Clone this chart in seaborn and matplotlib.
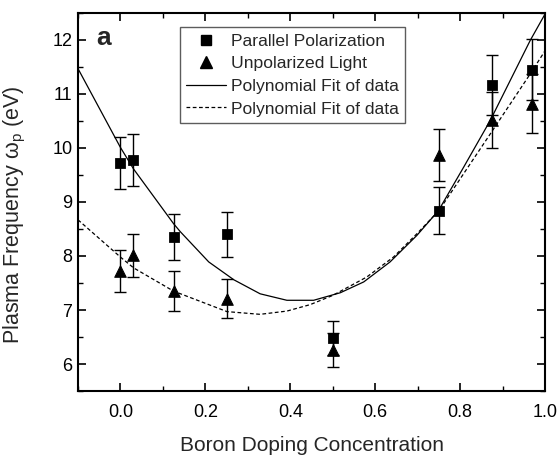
import matplotlib
matplotlib.use("Agg")
import matplotlib.pyplot as plt
from matplotlib.lines import Line2D
from matplotlib.ticker import MultipleLocator
import pandas as pd
import seaborn as sns

# ── Data ─────────────────────────────────────────────────────────────────────
x_conc = [0.0, 0.03, 0.125, 0.25, 0.5, 0.75, 0.875, 0.97]
y_parallel = [9.72, 9.78, 8.35, 8.40, 6.48, 8.84, 11.17, 11.45]
err_parallel = [0.48, 0.48, 0.42, 0.42, 0.32, 0.44, 0.56, 0.57]
y_unpol = [7.72, 8.01, 7.36, 7.21, 6.26, 9.87, 10.52, 10.82]
err_unpol = [0.39, 0.40, 0.37, 0.36, 0.32, 0.49, 0.52, 0.55]

fit_par_x = [-0.1, 0.0, 0.031, 0.125, 0.141, 0.208, 0.267, 0.329, 0.392, 0.455,
             0.518, 0.573, 0.635, 0.698, 0.749, 0.808, 0.871, 0.965, 1.0]
fit_par_y = [11.47, 10.01, 9.61, 8.60, 8.45, 7.89, 7.56, 7.30, 7.18, 7.18,
             7.32, 7.52, 7.89, 8.38, 8.84, 9.64, 10.51, 11.99, 12.48]
fit_unp_x = [-0.1, 0.0, 0.031, 0.125, 0.251, 0.329, 0.392, 0.447, 0.5, 0.58,
             0.643, 0.698, 0.75, 0.871, 0.965, 1.0]
fit_unp_y = [8.67, 7.98, 7.78, 7.35, 6.97, 6.92, 6.98, 7.10, 7.27, 7.61,
             7.98, 8.41, 8.84, 10.26, 11.37, 11.80]

legend_labels = ["Parallel Polarization", "Unpolarized Light",
                 "Polynomial Fit of data", "Polynomial Fit of data"]

# ── Style ────────────────────────────────────────────────────────────────────
sns.set_style("ticks")
plt.rcParams["font.family"] = ["Liberation Sans", "DejaVu Sans"]
plt.rcParams["mathtext.default"] = "regular"

fig = plt.figure(figsize=(5.59, 4.57), dpi=100)
ax = fig.add_axes([0.1395, 0.1444, 0.8355, 0.8272])

pts = pd.DataFrame({"x": x_conc, "par": y_parallel, "unp": y_unpol})
fit_par = pd.DataFrame({"x": fit_par_x, "y": fit_par_y})
fit_unp = pd.DataFrame({"x": fit_unp_x, "y": fit_unp_y})

# fit curves
sns.lineplot(data=fit_par, x="x", y="y", ax=ax, estimator=None, sort=False,
             color="black", linewidth=0.9)
sns.lineplot(data=fit_unp, x="x", y="y", ax=ax, estimator=None, sort=False,
             color="black", linewidth=0.9, linestyle=(0, (3, 2)))

# error bars
ax.errorbar(x_conc, y_parallel, yerr=err_parallel, fmt="none", ecolor="black",
            elinewidth=1.0, capsize=4, capthick=1.0)
ax.errorbar(x_conc, y_unpol, yerr=err_unpol, fmt="none", ecolor="black",
            elinewidth=1.0, capsize=4, capthick=1.0)

# markers
sns.scatterplot(data=pts, x="x", y="par", ax=ax, marker="s", s=50,
                color="black", edgecolor="black", zorder=5)
sns.scatterplot(data=pts, x="x", y="unp", ax=ax, marker="^", s=70,
                color="black", edgecolor="black", zorder=5)

# ── Axes ─────────────────────────────────────────────────────────────────────
ax.set_xlim(-0.1, 1.0)
ax.set_ylim(5.5, 12.5)
ax.xaxis.set_major_locator(MultipleLocator(0.2))
ax.xaxis.set_minor_locator(MultipleLocator(0.1))
ax.yaxis.set_major_locator(MultipleLocator(1))
ax.yaxis.set_minor_locator(MultipleLocator(0.5))
ax.set_xticks([0.0, 0.2, 0.4, 0.6, 0.8, 1.0])
ax.set_xticklabels(["0.0", "0.2", "0.4", "0.6", "0.8", "1.0"])

ax.tick_params(which="both", direction="in", top=True, right=True,
               colors="black", labelsize=13)
ax.tick_params(which="major", length=6, width=1.2)
ax.tick_params(which="minor", length=3.5, width=1.0)
ax.tick_params(axis="x", which="major", pad=9)
ax.tick_params(axis="y", which="major", pad=4)
for s in ax.spines.values():
    s.set_visible(True)
    s.set_linewidth(1.5)
    s.set_color("black")

ax.set_xlabel("Boron Doping Concentration", fontsize=15, labelpad=11.5)
ax.set_ylabel(r"Plasma Frequency $ω_p$ (eV)", fontsize=15.5)
ax.yaxis.set_label_coords(-0.108, 0.465)

ax.text(0.04, 0.935, "a", transform=ax.transAxes, fontsize=19,
        fontweight="bold", va="center", ha="left")

# ── Legend ───────────────────────────────────────────────────────────────────
handles = [
    Line2D([], [], marker="s", color="black", linestyle="none", markersize=7),
    Line2D([], [], marker="^", color="black", linestyle="none", markersize=8),
    Line2D([], [], color="black", linewidth=0.9),
    Line2D([], [], color="black", linewidth=0.9, linestyle=(0, (3, 2))),
]
leg = ax.legend(handles, legend_labels, loc="upper left",
                bbox_to_anchor=(0.218, 0.962), borderaxespad=0,
                fontsize=12.6, frameon=True, fancybox=False,
                handlelength=2.3, handletextpad=0.3, borderpad=0.35,
                labelspacing=0.42)
leg.get_frame().set_edgecolor("#333333")
leg.get_frame().set_linewidth(1.0)

fig.savefig("out.png", dpi=100)
plt.close(fig)
